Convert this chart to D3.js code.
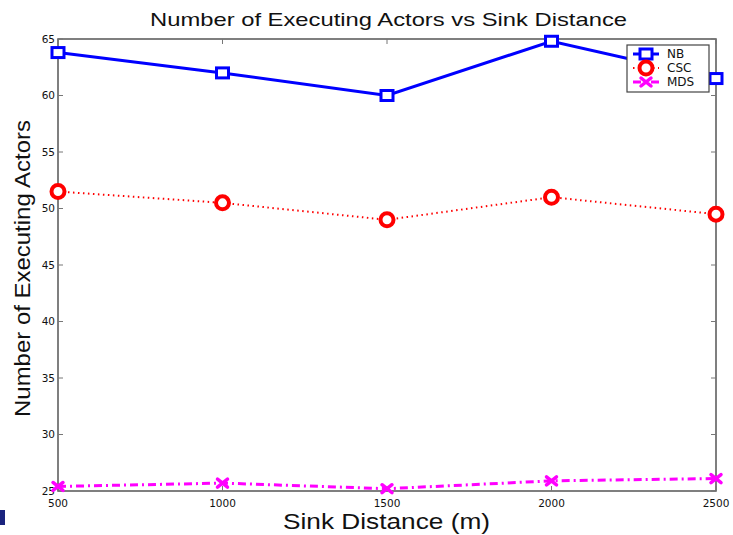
<!DOCTYPE html>
<meta charset="utf-8">
<style>
  body { margin: 0; background: #fff; }
  text { font-family: "Liberation Sans", Arial, sans-serif; }
  .tick-label { font-family: "DejaVu Sans", sans-serif; font-size: 10.5px; fill: #111; }
  .axis-title { font-size: 22px; fill: #111; }
  .chart-title { font-size: 19px; fill: #111; }
  .legend-label { font-family: "DejaVu Sans", sans-serif; font-size: 12px; fill: #111; }
</style>
<body>
<div id="vis"></div>
<script src="https://cdn.jsdelivr.net/npm/d3@7"></script>
<script>

const width = 733,
    height = 535;

// data
const distances = [500, 1000, 1500, 2000, 2500];
const nbValues = [63.8, 62.0, 60.0, 64.8, 61.5];
const cscValues = [51.5, 50.5, 49.0, 51.0, 49.5];
const mdsValues = [25.4, 25.7, 25.2, 25.9, 26.1];
const yTicks = [25, 30, 35, 40, 45, 50, 55, 60, 65];
const seriesNames = ['NB', 'CSC', 'MDS'];

let margin = {l: 58, r: 17, t: 39, b: 44};
let x = d3.scaleLinear().domain([500, 2500]).range([margin.l, width - margin.r]);
let y = d3.scaleLinear().domain([25, 65]).range([height - margin.b, margin.t]);

const series = [
  {name: seriesNames[0], values: nbValues, color: '#0000ff', width: 3, dash: null, marker: 'square'},
  {name: seriesNames[1], values: cscValues, color: '#ff0000', width: 2, dash: '1.5,3.5', marker: 'circle'},
  {name: seriesNames[2], values: mdsValues, color: '#ff00ff', width: 3, dash: '8,4,2,4', marker: 'cross'}
];

let svg = d3.select('#vis').append('svg')
    .attr('width', width)
    .attr('height', height);

// frame
let x0 = x.range()[0], x1 = x.range()[1], y0 = y.range()[0], y1 = y.range()[1];
svg.append('rect')
    .attr('x', x0).attr('y', y1)
    .attr('width', x1 - x0).attr('height', y0 - y1)
    .style('fill', '#fff')
    .style('stroke', '#555')
    .style('stroke-width', 1.5);

// ticks (inside, both sides)
let tickG = svg.append('g').style('stroke', '#777').style('stroke-width', 1);
distances.forEach(d => {
  tickG.append('line').attr('x1', x(d)).attr('x2', x(d)).attr('y1', y0).attr('y2', y0 - 5);
  tickG.append('line').attr('x1', x(d)).attr('x2', x(d)).attr('y1', y1).attr('y2', y1 + 5);
});
yTicks.forEach(v => {
  tickG.append('line').attr('x1', x0).attr('x2', x0 + 5).attr('y1', y(v)).attr('y2', y(v));
  tickG.append('line').attr('x1', x1).attr('x2', x1 - 5).attr('y1', y(v)).attr('y2', y(v));
});

svg.selectAll('.xlab')
  .data(distances)
  .enter().append('text')
  .attr('class', 'tick-label xlab')
  .attr('x', d => x(d))
  .attr('y', y0 + 16)
  .style('text-anchor', 'middle')
  .text(d => d);

svg.selectAll('.ylab')
  .data(yTicks)
  .enter().append('text')
  .attr('class', 'tick-label ylab')
  .attr('x', x0 - 3)
  .attr('y', d => y(d))
  .attr('dy', '0.35em')
  .style('text-anchor', 'end')
  .text(d => d);

// lines
const line = d3.line().x((d, i) => x(distances[i])).y(d => y(d));

const drawMarker = (g, type, color, cx, cy) => {
  if(type == 'square') {
    g.append('rect')
      .attr('x', cx - 6).attr('y', cy - 5)
      .attr('width', 12).attr('height', 10)
      .style('fill', '#fff')
      .style('stroke', color).style('stroke-width', 3);
  } else if(type == 'circle') {
    g.append('circle')
      .attr('cx', cx).attr('cy', cy).attr('r', 6.5)
      .style('fill', '#fff')
      .style('stroke', color).style('stroke-width', 4);
  } else {
    g.append('path')
      .attr('d', 'M'+(cx-5)+','+(cy-4)+'L'+(cx+5)+','+(cy+4)+'M'+(cx-5)+','+(cy+4)+'L'+(cx+5)+','+(cy-4))
      .style('stroke', color).style('stroke-width', 3.5)
      .style('stroke-linecap', 'round');
  }
};

series.forEach(s => {
  svg.append('path')
    .attr('d', line(s.values))
    .style('fill', 'none')
    .style('stroke', s.color)
    .style('stroke-width', s.width)
    .style('stroke-dasharray', s.dash);
  let g = svg.append('g');
  s.values.forEach((v, i) => drawMarker(g, s.marker, s.color, x(distances[i]), y(v)));
});

// legend
let legG = svg.append('g').attr('transform', 'translate(627,45)');
legG.append('rect')
    .attr('width', 82).attr('height', 47)
    .style('fill', '#fff')
    .style('stroke', '#444')
    .style('stroke-width', 1.2);
series.forEach((s, i) => {
  let ly = 9 + i * 14;
  legG.append('line')
    .attr('x1', 6).attr('x2', 32).attr('y1', ly).attr('y2', ly)
    .style('stroke', s.color)
    .style('stroke-width', s.width)
    .style('stroke-dasharray', s.dash);
  drawMarker(legG, s.marker, s.color, 19, ly);
  legG.append('text')
    .attr('class', 'legend-label')
    .attr('x', 40)
    .attr('y', ly)
    .attr('dy', '0.35em')
    .text(s.name);
});

// titles (the original type is set wide, so stretch to its measured length)
svg.append('text')
    .attr('class', 'chart-title')
    .attr('x', 150)
    .attr('y', 26)
    .attr('textLength', 477)
    .attr('lengthAdjust', 'spacingAndGlyphs')
    .text('Number of Executing Actors vs Sink Distance');
svg.append('text')
    .attr('class', 'axis-title')
    .attr('x', 283)
    .attr('y', 529)
    .attr('textLength', 207)
    .attr('lengthAdjust', 'spacingAndGlyphs')
    .text('Sink Distance (m)');
svg.append('text')
    .attr('class', 'axis-title')
    .attr('transform', 'translate(30,417) rotate(-90)')
    .attr('textLength', 297)
    .attr('lengthAdjust', 'spacingAndGlyphs')
    .text('Number of Executing Actors');

// small dark mark at the bottom-left edge
svg.append('rect')
    .attr('x', 0).attr('y', 510)
    .attr('width', 5).attr('height', 15)
    .style('fill', '#1a237e');

</script>
</body>
